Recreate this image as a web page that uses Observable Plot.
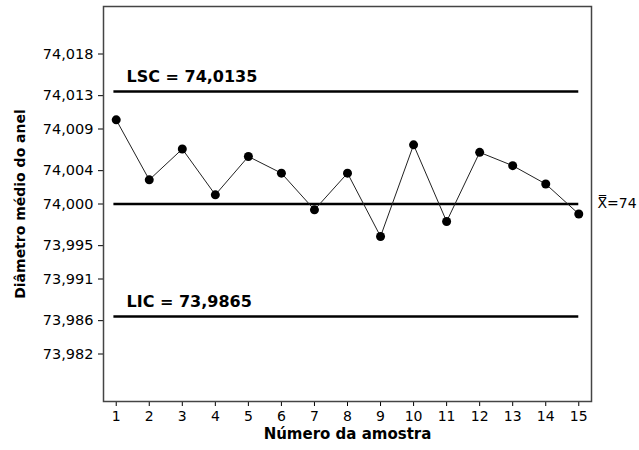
<!DOCTYPE html>
<html>
<head>
<meta charset="utf-8">
<script src="https://cdn.jsdelivr.net/npm/d3@7"></script>
<script src="https://cdn.jsdelivr.net/npm/@observablehq/plot@0.6"></script>
<style>
  body { margin: 0; background: #fff; }
  #chart svg { display: block; }
</style>
</head>
<body>
<div id="chart"></div>
<script>
// Gráfico de controle X-barra: diâmetro médio do anel por amostra
const samples = [1, 2, 3, 4, 5, 6, 7, 8, 9, 10, 11, 12, 13, 14, 15];
const means = [74.0101, 74.0029, 74.0066, 74.0011, 74.0057, 74.0037, 73.9993, 74.0037,
               73.9961, 74.0071, 73.9979, 74.0062, 74.0046, 74.0024, 73.9988];
const yTicks = [74.018, 74.013, 74.009, 74.004, 74.000, 73.995, 73.991, 73.986, 73.982];
const centerLine = 74;
const ucl = 74.0135; // LSC
const lcl = 73.9865; // LIC
const ruleSpan = [0.93, 15];

const data = samples.map((s, i) => ({sample: s, mean: means[i]}));
const limits = [
  {name: "LSC", value: ucl},
  {name: "LIC", value: lcl}
];

const comma = v => String(v).replace(".", ",");
const fmt3 = v => d3.format(".3f")(v).replace(".", ",");

const chart = Plot.plot({
  width: 639,
  height: 450,
  marginLeft: 103,
  marginRight: 48,
  marginTop: 6,
  marginBottom: 49,
  style: {fontFamily: "DejaVu Sans, sans-serif", color: "#000", background: "#fff"},
  x: {domain: [0.615, 15.385]},
  y: {domain: [73.9763, 74.0237]},
  marks: [
    Plot.axisY({ticks: yTicks, tickFormat: fmt3, tickSize: 5, tickPadding: 5, fontSize: 14.5, label: null}),
    Plot.axisX({ticks: samples, tickFormat: d3.format("d"), tickSize: 5, tickPadding: 5, fontSize: 14, label: null}),
    // limites de controle
    Plot.ruleY(limits, {y: "value", x1: ruleSpan[0], x2: ruleSpan[1], stroke: "#000", strokeWidth: 2.5}),
    Plot.text(limits, {
      y: "value", frameAnchor: "left", dx: 23, dy: -10, textAnchor: "start", lineAnchor: "bottom",
      text: d => `${d.name} = ${comma(d.value)}`, fontWeight: "bold", fontSize: 16, fill: "#000"
    }),
    // linha central (X com barra dupla)
    Plot.ruleY([centerLine], {x1: ruleSpan[0], x2: ruleSpan[1], stroke: "#000", strokeWidth: 2.5}),
    Plot.text([centerLine], {
      y: d => d, frameAnchor: "right", dx: 6, textAnchor: "start",
      text: d => "X\u033F=" + comma(d), fontSize: 14, fill: "#000"
    }),
    // médias das amostras
    Plot.line(data, {x: "sample", y: "mean", stroke: "#222", strokeWidth: 1}),
    Plot.dot(data, {x: "sample", y: "mean", r: 4.5, fill: "#000", stroke: "none"}),
    Plot.frame({stroke: "#444", strokeWidth: 1.5}),
    // rótulos dos eixos
    Plot.text(["Diâmetro médio do anel"], {
      frameAnchor: "left", dx: -83, rotate: -90, textAnchor: "middle", text: d => d,
      fontWeight: "bold", fontSize: 14, fill: "#000"
    }),
    Plot.text(["Número da amostra"], {
      frameAnchor: "bottom", dy: 37, textAnchor: "middle", text: d => d,
      fontWeight: "bold", fontSize: 15, fill: "#000"
    })
  ]
});

document.getElementById("chart").appendChild(chart);
</script>
</body>
</html>
